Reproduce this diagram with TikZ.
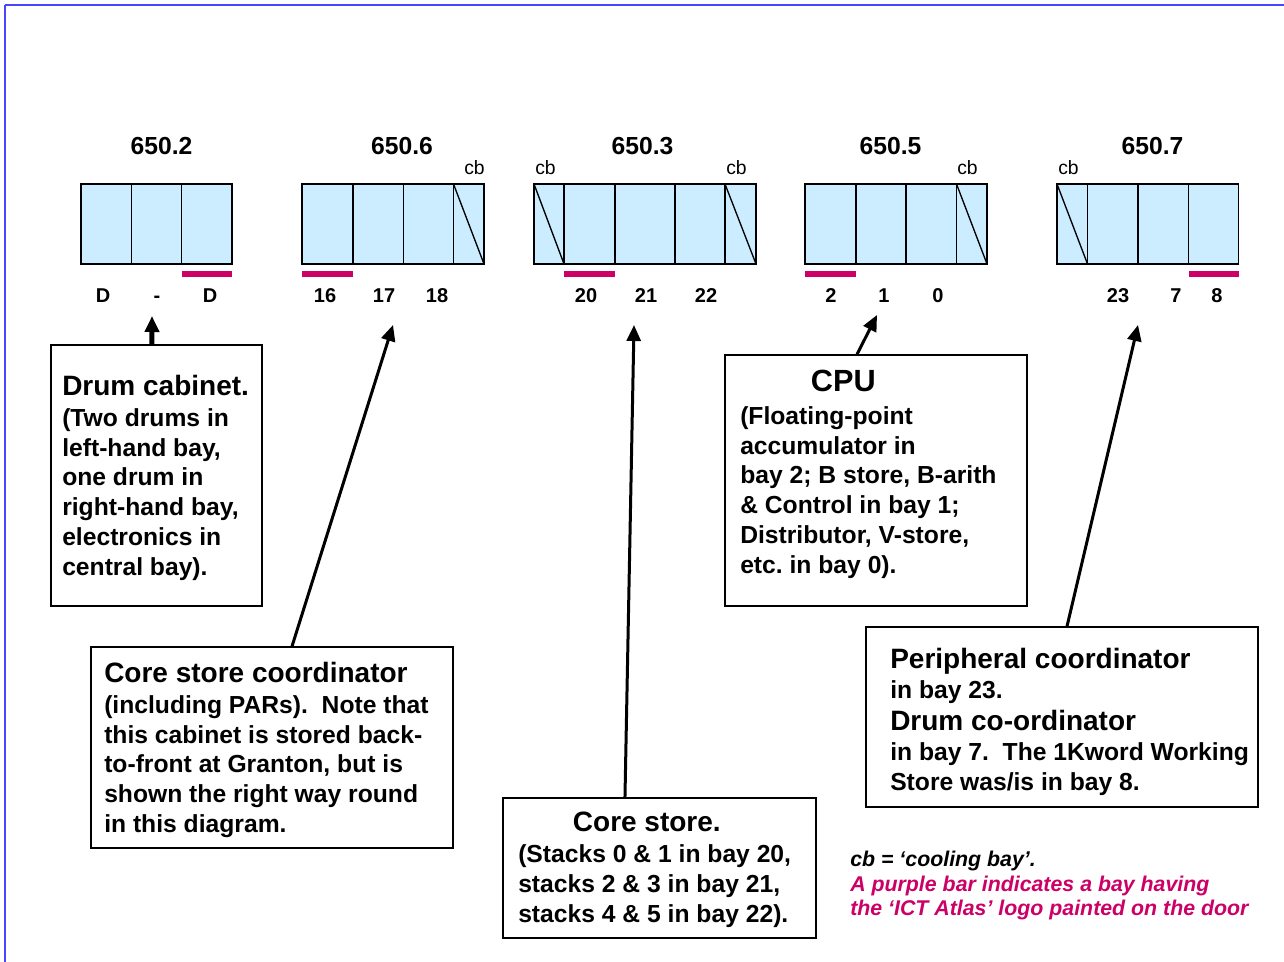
\documentclass[tikz,border=0pt]{standalone}
\usepackage{fontspec}
\setmainfont{Liberation Sans}
\usetikzlibrary{arrows.meta,fit}
\definecolor{bayBlue}{RGB}{204,236,255}
\definecolor{logoPurple}{RGB}{204,0,102}
\definecolor{frameBlue}{RGB}{70,70,255}
\newcommand{\bodyFont}[0]{\bfseries\fontsize{18.5}{22.4}\selectfont}
\newcommand{\headFont}[0]{\bfseries\fontsize{21}{24}\selectfont}
\newcommand{\cabinet}[3]{\draw[bay] (#1,184) rectangle (#2,264); \foreach \d in {#3}{\draw[divider] (\d,184) -- (\d,264);}}
\newcommand{\coolDiag}[2]{\draw[divider] (#1,184) -- (#2,264);}
\frenchspacing

\begin{document}
\begin{tikzpicture}[x=0.75pt, y=-0.75pt]
  \tikzset{
    bay/.style={draw, fill=bayBlue, line width=1pt},
    divider/.style={line width=1pt},
    cabtitle/.style={anchor=base, inner sep=0, font=\bfseries\fontsize{18.5}{22}\selectfont},
    baynum/.style={anchor=base, inner sep=0, font=\bfseries\fontsize{15}{18}\selectfont},
    cbtext/.style={anchor=base west, inner sep=0, font=\fontsize{14.5}{17}\selectfont},
    notebox/.style={draw, inner sep=0, line width=1pt},
    notetext/.style={anchor=north west, align=left, inner sep=0, font=\bodyFont},
    pointer/.style={line width=2.25pt, -{Triangle[length=12pt,width=10.5pt]}}
  }
  \useasboundingbox (0,0) rectangle (1284,962);
  \draw[frameBlue, line width=0.8pt] (5,962) -- (5,5.5);
  \draw[frameBlue, line width=1.5pt] (4.5,5.5) -- (1284,5.5);

  % cabinets and bays
  \cabinet{81}{232}{131.5,181.5}
  \cabinet{302}{484}{353,403.5,453.5}
  \coolDiag{453.5}{484}
  \cabinet{534}{756}{564,615,675,725}
  \coolDiag{534}{564}
  \coolDiag{725}{756}
  \cabinet{805}{987}{856,906,956.5}
  \coolDiag{956.5}{987}
  \cabinet{1057}{1238.5}{1087.5,1138,1188.5}
  \coolDiag{1057}{1087.5}
  \foreach \xa/\xb in {181.5/232,302/353,564/615,805/856,1188.5/1238.5}{\fill[logoPurple] (\xa,271) rectangle (\xb,277.5);}

  \foreach \x/\lab [count=\i] in {161.5/650.2,402/650.6,642.5/650.3,890.5/650.5,1152.5/650.7}
    \node[cabtitle] (cab\i) at (\x,155) {\lab};
  \foreach \x [count=\i] in {464,535,726,957,1058}
    \node[cbtext] (cb\i) at (\x,175) {cb};
  \foreach \x/\lab [count=\i] in {103/D,157/-,210/D,325/16,384/17,437/18,586/20,646/21,706/22,831/2,884/1,938/0,1118/23,1176/7,1217/8}
    \node[baynum] (num\i) at (\x,303) {\lab};

  % notes
  \node[notebox, fit={(51,345) (262,606)}] (drumbox) {};
  \node[notetext] (drumtext) at (62,375) {{\headFont Drum cabinet.}\\[0.6pt](Two drums in\\left-hand bay,\\one drum in\\right-hand bay,\\electronics in\\central bay).};
  \node[notebox, fit={(91,647) (453,848)}] (coordbox) {};
  \node[notetext] (coordtext) at (104,662) {{\headFont Core store coordinator}\\[0.6pt](including PARs).\ \ Note that\\this cabinet is stored back-\\to-front at Granton, but is\\shown the right way round\\in this diagram.};
  \node[notebox, fit={(503,798) (816,938)}] (corebox) {};
  \node[notetext] (coretext) at (518,812) {\hspace*{41pt}{\headFont Core store.}\\[0.6pt](Stacks 0 \& 1 in bay 20,\\stacks 2 \& 3 in bay 21,\\stacks 4 \& 5 in bay 22).};
  \node[notebox, fit={(725,355) (1027,606)}] (cpubox) {};
  \node[notetext] (cputext) at (740,370) {\hspace*{53pt}{\bfseries\fontsize{23}{26}\selectfont CPU}\\[2pt](Floating-point\\accumulator in\\bay 2; B store, B-arith\\\& Control in bay 1;\\Distributor, V-store,\\etc. in bay 0).};
  \node[notebox, fit={(866,627) (1258,807)}] (periphbox) {};
  \node[notetext] (periphtext) at (890,648) {{\headFont Peripheral coordinator}\\in bay 23.\\[1.5pt]{\headFont Drum co-ordinator}\\[0.6pt]in bay 7.\ \ The 1Kword Working\\Store was/is in bay 8.};

  \node[anchor=north west, align=left, inner sep=0, font=\bfseries\itshape\fontsize{16}{18.4}\selectfont] (legend) at (850,851)
    {cb = ‘cooling bay’.\\{\color{logoPurple}A purple bar indicates a bay having}\\{\color{logoPurple}the ‘ICT Atlas’ logo painted on the door}};

  % arrows to the bays
  \coordinate (drumtip) at (152,316);
  \coordinate (coordtip) at (393,325);
  \coordinate (coretip) at (634,325);
  \coordinate (cputip) at (877,315);
  \coordinate (periphtip) at (1138,325);
  \draw[pointer, line width=3.75pt] ([xshift=-3.4pt]drumbox.north) -- (drumtip);
  \draw[pointer] ([xshift=15pt]coordbox.north) -- (coordtip);
  \draw[pointer] ([xshift=-25.9pt]corebox.north) -- (coretip);
  \draw[pointer] ([xshift=-14.25pt]cpubox.north) -- (cputip);
  \draw[pointer] ([xshift=3.75pt]periphbox.north) -- (periphtip);
\end{tikzpicture}
\end{document}
